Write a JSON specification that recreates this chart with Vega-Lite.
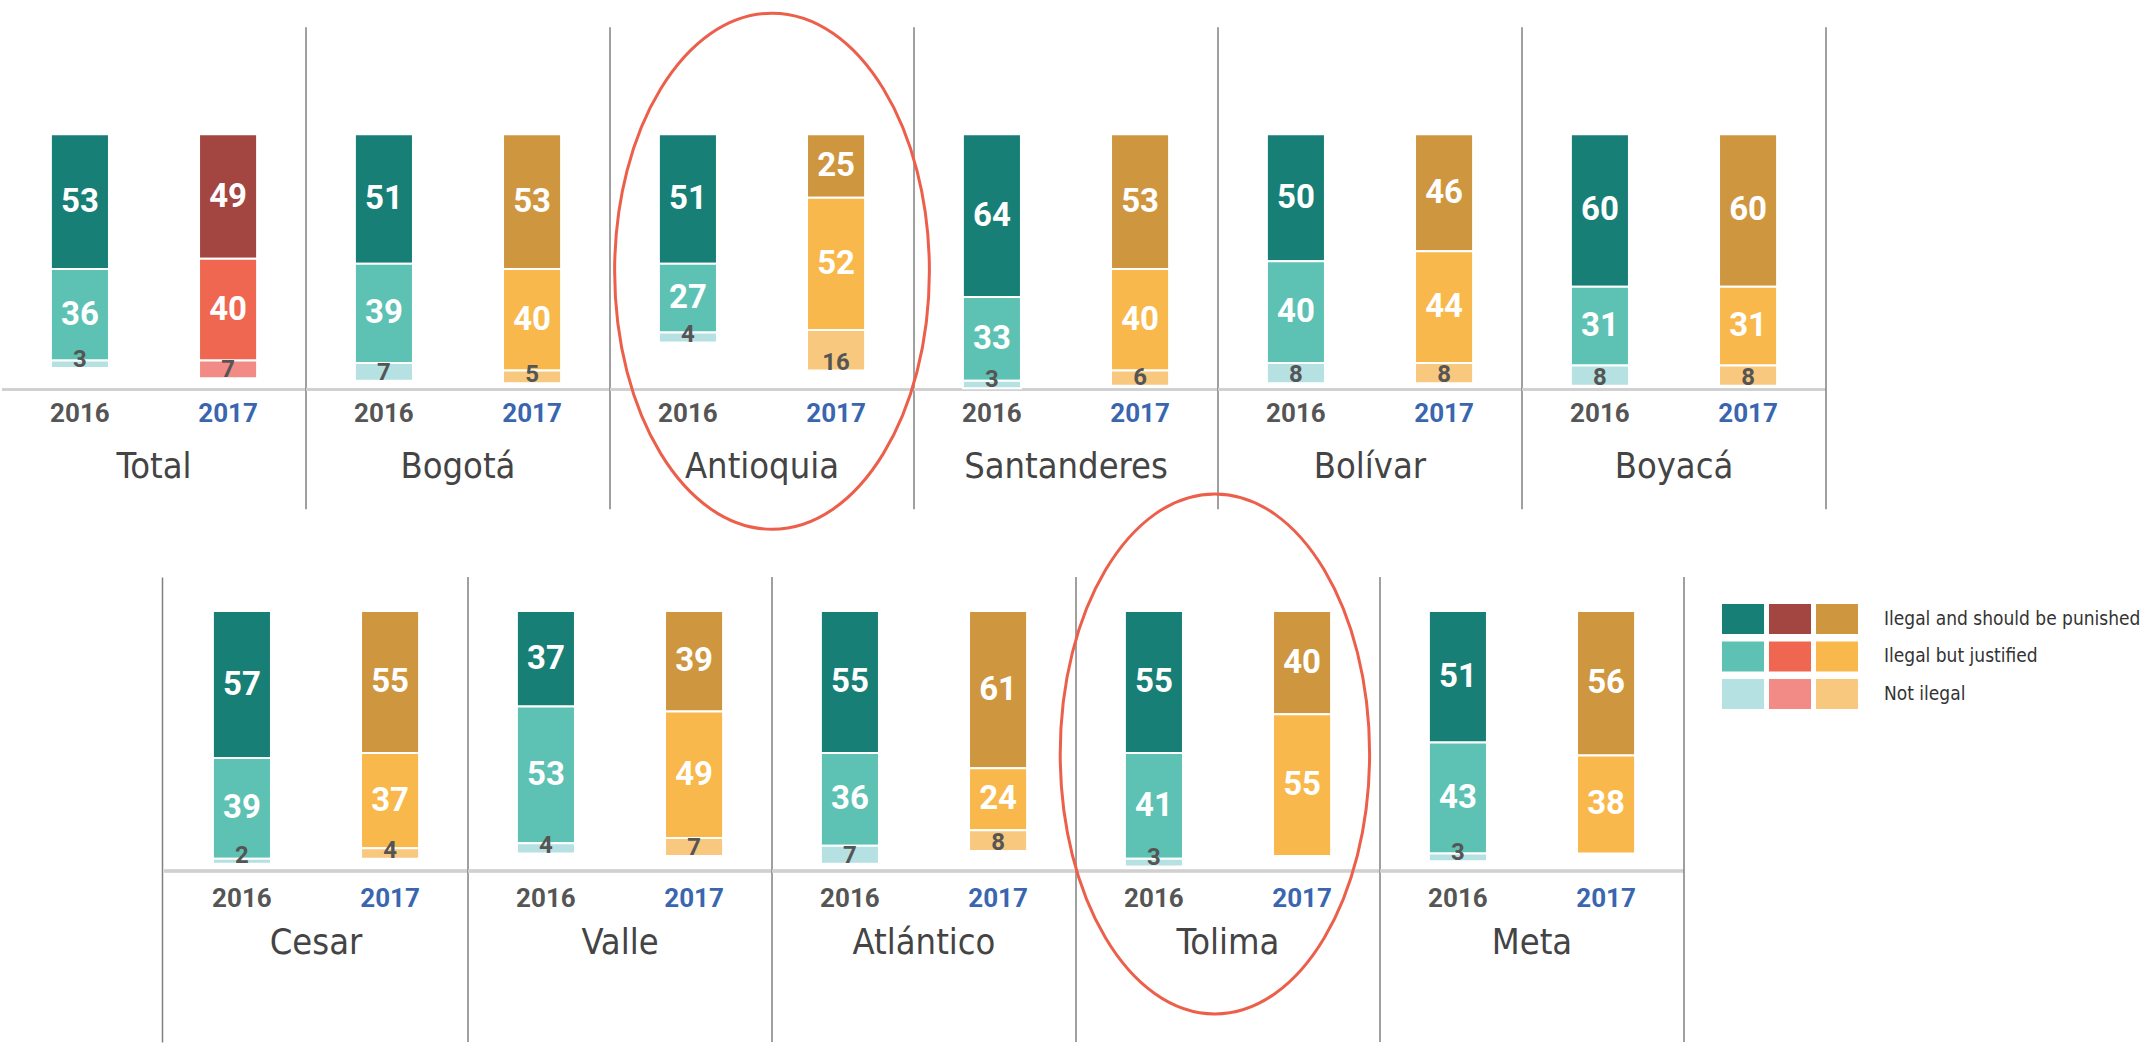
{
  "$schema": "https://vega.github.io/schema/vega-lite/v6.json",
  "padding": {"top": 6.3, "left": 0, "right": 0, "bottom": 0},
  "background": "white",
  "config": {
    "view": {"stroke": null},
    "font": "Roboto",
    "axisY": {"labels": false, "ticks": false, "grid": false, "domainColor": "#808080", "domainWidth": 1.5}
  },
  "datasets": {
    "survey": [
      {"region": "Total", "year": "2016", "cat": "Ilegal and should be punished", "v": 53},
      {"region": "Total", "year": "2016", "cat": "Ilegal but justified", "v": 36},
      {"region": "Total", "year": "2016", "cat": "Not ilegal", "v": 3},
      {"region": "Total", "year": "2017", "cat": "Ilegal and should be punished", "v": 49},
      {"region": "Total", "year": "2017", "cat": "Ilegal but justified", "v": 40},
      {"region": "Total", "year": "2017", "cat": "Not ilegal", "v": 7},
      {"region": "Bogotá", "year": "2016", "cat": "Ilegal and should be punished", "v": 51},
      {"region": "Bogotá", "year": "2016", "cat": "Ilegal but justified", "v": 39},
      {"region": "Bogotá", "year": "2016", "cat": "Not ilegal", "v": 7},
      {"region": "Bogotá", "year": "2017", "cat": "Ilegal and should be punished", "v": 53},
      {"region": "Bogotá", "year": "2017", "cat": "Ilegal but justified", "v": 40},
      {"region": "Bogotá", "year": "2017", "cat": "Not ilegal", "v": 5},
      {"region": "Antioquia", "year": "2016", "cat": "Ilegal and should be punished", "v": 51},
      {"region": "Antioquia", "year": "2016", "cat": "Ilegal but justified", "v": 27},
      {"region": "Antioquia", "year": "2016", "cat": "Not ilegal", "v": 4},
      {"region": "Antioquia", "year": "2017", "cat": "Ilegal and should be punished", "v": 25},
      {"region": "Antioquia", "year": "2017", "cat": "Ilegal but justified", "v": 52},
      {"region": "Antioquia", "year": "2017", "cat": "Not ilegal", "v": 16},
      {"region": "Santanderes", "year": "2016", "cat": "Ilegal and should be punished", "v": 64},
      {"region": "Santanderes", "year": "2016", "cat": "Ilegal but justified", "v": 33},
      {"region": "Santanderes", "year": "2016", "cat": "Not ilegal", "v": 3},
      {"region": "Santanderes", "year": "2017", "cat": "Ilegal and should be punished", "v": 53},
      {"region": "Santanderes", "year": "2017", "cat": "Ilegal but justified", "v": 40},
      {"region": "Santanderes", "year": "2017", "cat": "Not ilegal", "v": 6},
      {"region": "Bolívar", "year": "2016", "cat": "Ilegal and should be punished", "v": 50},
      {"region": "Bolívar", "year": "2016", "cat": "Ilegal but justified", "v": 40},
      {"region": "Bolívar", "year": "2016", "cat": "Not ilegal", "v": 8},
      {"region": "Bolívar", "year": "2017", "cat": "Ilegal and should be punished", "v": 46},
      {"region": "Bolívar", "year": "2017", "cat": "Ilegal but justified", "v": 44},
      {"region": "Bolívar", "year": "2017", "cat": "Not ilegal", "v": 8},
      {"region": "Boyacá", "year": "2016", "cat": "Ilegal and should be punished", "v": 60},
      {"region": "Boyacá", "year": "2016", "cat": "Ilegal but justified", "v": 31},
      {"region": "Boyacá", "year": "2016", "cat": "Not ilegal", "v": 8},
      {"region": "Boyacá", "year": "2017", "cat": "Ilegal and should be punished", "v": 60},
      {"region": "Boyacá", "year": "2017", "cat": "Ilegal but justified", "v": 31},
      {"region": "Boyacá", "year": "2017", "cat": "Not ilegal", "v": 8},
      {"region": "Cesar", "year": "2016", "cat": "Ilegal and should be punished", "v": 57},
      {"region": "Cesar", "year": "2016", "cat": "Ilegal but justified", "v": 39},
      {"region": "Cesar", "year": "2016", "cat": "Not ilegal", "v": 2},
      {"region": "Cesar", "year": "2017", "cat": "Ilegal and should be punished", "v": 55},
      {"region": "Cesar", "year": "2017", "cat": "Ilegal but justified", "v": 37},
      {"region": "Cesar", "year": "2017", "cat": "Not ilegal", "v": 4},
      {"region": "Valle", "year": "2016", "cat": "Ilegal and should be punished", "v": 37},
      {"region": "Valle", "year": "2016", "cat": "Ilegal but justified", "v": 53},
      {"region": "Valle", "year": "2016", "cat": "Not ilegal", "v": 4},
      {"region": "Valle", "year": "2017", "cat": "Ilegal and should be punished", "v": 39},
      {"region": "Valle", "year": "2017", "cat": "Ilegal but justified", "v": 49},
      {"region": "Valle", "year": "2017", "cat": "Not ilegal", "v": 7},
      {"region": "Atlántico", "year": "2016", "cat": "Ilegal and should be punished", "v": 55},
      {"region": "Atlántico", "year": "2016", "cat": "Ilegal but justified", "v": 36},
      {"region": "Atlántico", "year": "2016", "cat": "Not ilegal", "v": 7},
      {"region": "Atlántico", "year": "2017", "cat": "Ilegal and should be punished", "v": 61},
      {"region": "Atlántico", "year": "2017", "cat": "Ilegal but justified", "v": 24},
      {"region": "Atlántico", "year": "2017", "cat": "Not ilegal", "v": 8},
      {"region": "Tolima", "year": "2016", "cat": "Ilegal and should be punished", "v": 55},
      {"region": "Tolima", "year": "2016", "cat": "Ilegal but justified", "v": 41},
      {"region": "Tolima", "year": "2016", "cat": "Not ilegal", "v": 3},
      {"region": "Tolima", "year": "2017", "cat": "Ilegal and should be punished", "v": 40},
      {"region": "Tolima", "year": "2017", "cat": "Ilegal but justified", "v": 55},
      {"region": "Meta", "year": "2016", "cat": "Ilegal and should be punished", "v": 51},
      {"region": "Meta", "year": "2016", "cat": "Ilegal but justified", "v": 43},
      {"region": "Meta", "year": "2016", "cat": "Not ilegal", "v": 3},
      {"region": "Meta", "year": "2017", "cat": "Ilegal and should be punished", "v": 56},
      {"region": "Meta", "year": "2017", "cat": "Ilegal but justified", "v": 38}
    ],
    "legend": [
      {"pal": "teal", "cat": "Ilegal and should be punished"},
      {"pal": "teal", "cat": "Ilegal but justified"},
      {"pal": "teal", "cat": "Not ilegal"},
      {"pal": "red", "cat": "Ilegal and should be punished"},
      {"pal": "red", "cat": "Ilegal but justified"},
      {"pal": "red", "cat": "Not ilegal"},
      {"pal": "orange", "cat": "Ilegal and should be punished"},
      {"pal": "orange", "cat": "Ilegal but justified"},
      {"pal": "orange", "cat": "Not ilegal"}
    ],
    "spacer": [{"v": 0}]
  },
  "spacing": -47.4,
  "vconcat": [
    {
      "data": {"name": "survey"},
      "transform": [
        {"filter": {"field": "region", "oneOf": ["Total", "Bogotá", "Antioquia", "Santanderes", "Bolívar", "Boyacá"]}},
        {"stack": "v", "groupby": ["region", "year"], "sort": [{"field": "cat", "order": "ascending"}], "as": ["v0", "v1"]},
        {"calculate": "(datum.v0 + datum.v1) / 2", "as": "vm"},
        {"calculate": "(datum.year == '2016' ? 'teal' : datum.region == 'Total' ? 'red' : 'orange') + '|' + datum.cat", "as": "ck"}
      ],
      "facet": {"column": {"field": "region", "type": "nominal", "sort": ["Total", "Bogotá", "Antioquia", "Santanderes", "Bolívar", "Boyacá"], "header": null}},
      "spacing": 0,
      "bounds": "flush",
      "spec": {
        "width": 304,
        "height": 482,
        "layer": [
          {
            "mark": {"type": "rule", "color": "#d0d0d0", "strokeWidth": 2.5},
            "encoding": {"y": {"datum": 100.5, "type": "quantitative", "axis": null}}
          },
          {
            "mark": {"type": "bar", "stroke": "white", "strokeWidth": 2},
            "encoding": {
              "x": {"field": "year", "type": "nominal", "scale": {"paddingInner": 0.608, "paddingOuter": 0.33}, "axis": null},
              "y": {"field": "v0", "type": "quantitative", "scale": {"domain": [-42.1, 147.6], "reverse": true, "nice": false, "zero": false}, "axis": null},
              "y2": {"field": "v1"},
              "color": {
                "field": "ck", "type": "nominal", "legend": null,
                "scale": {
                  "domain": ["teal|Ilegal and should be punished", "teal|Ilegal but justified", "teal|Not ilegal", "red|Ilegal and should be punished", "red|Ilegal but justified", "red|Not ilegal", "orange|Ilegal and should be punished", "orange|Ilegal but justified", "orange|Not ilegal"],
                  "range": ["#187F77", "#5DC2B4", "#B5E1E3", "#A34641", "#EF6651", "#F28B86", "#CF9640", "#F9B84B", "#F8C87E"]
                }
              }
            }
          },
          {
            "transform": [{"filter": "datum.cat == 'Ilegal and should be punished' && datum.year == '2016'"}],
            "mark": {"type": "rule", "color": "#808080", "strokeWidth": 1.5},
            "encoding": {"x": {"datum": "2017", "type": "nominal", "bandPosition": 1.842, "axis": null}}
          },
          {
            "transform": [{"filter": "datum.cat != 'Not ilegal'"}],
            "mark": {"type": "text", "fontSize": 33, "fontWeight": "bold", "color": "white", "baseline": "middle"},
            "encoding": {
              "x": {"field": "year", "type": "nominal", "axis": null},
              "y": {"field": "vm", "type": "quantitative", "axis": null},
              "text": {"field": "v"}
            }
          },
          {
            "transform": [{"filter": "datum.cat == 'Not ilegal'"}],
            "mark": {"type": "text", "fontSize": 24, "fontWeight": "bold", "color": "#555555", "baseline": "alphabetic", "dy": -1},
            "encoding": {
              "x": {"field": "year", "type": "nominal", "axis": null},
              "y": {"field": "v1", "type": "quantitative", "axis": null},
              "text": {"field": "v"}
            }
          },
          {
            "transform": [{"filter": "datum.cat == 'Ilegal and should be punished'"}],
            "mark": {"type": "text", "fontSize": 26, "fontWeight": "bold", "baseline": "middle"},
            "encoding": {
              "x": {"field": "year", "type": "nominal", "axis": null},
              "y": {"datum": 110, "type": "quantitative", "axis": null},
              "text": {"field": "year"},
              "color": {"condition": {"test": "datum.year == '2017'", "value": "#3A66B0"}, "value": "#555555"}
            }
          },
          {
            "transform": [{"filter": "datum.cat == 'Ilegal and should be punished' && datum.year == '2016'"}],
            "mark": {"type": "text", "font": "DejaVu Sans Condensed", "fontSize": 36, "color": "#444444", "baseline": "middle"},
            "encoding": {
              "y": {"datum": 131, "type": "quantitative", "axis": null},
              "text": {"field": "region"}
            }
          },
          {
            "transform": [{"filter": "datum.cat == 'Ilegal and should be punished' && datum.year == '2016' && datum.region == 'Antioquia'"}],
            "mark": {"type": "point", "shape": "M 0 -1 C 0.337 -1 0.61 -0.552 0.61 0 C 0.61 0.552 0.337 1 0 1 C -0.337 1 -0.61 0.552 -0.61 0 C -0.61 -0.552 -0.337 -1 0 -1 Z", "size": 266256, "filled": false, "stroke": "#EC5F4B", "strokeWidth": 3, "opacity": 1},
            "encoding": {
              "x": {"datum": "2016", "type": "nominal", "bandPosition": 1.948, "axis": null},
              "y": {"datum": 53.9, "type": "quantitative", "axis": null}
            }
          }
        ]
      }
    },
    {
      "spacing": 0,
      "hconcat": [
        {
          "data": {"name": "spacer"},
          "width": 160,
          "height": 465,
          "mark": {"type": "point", "opacity": 0},
          "encoding": {"y": {"field": "v", "type": "quantitative", "title": null, "axis": {"orient": "right"}}}
        },
        {
          "data": {"name": "survey"},
          "transform": [
            {"filter": {"field": "region", "oneOf": ["Cesar", "Valle", "Atlántico", "Tolima", "Meta"]}},
            {"stack": "v", "groupby": ["region", "year"], "sort": [{"field": "cat", "order": "ascending"}], "as": ["v0", "v1"]},
            {"calculate": "(datum.v0 + datum.v1) / 2", "as": "vm"},
            {"calculate": "(datum.year == '2016' ? 'teal' : datum.region == 'Total' ? 'red' : 'orange') + '|' + datum.cat", "as": "ck"}
          ],
          "facet": {"column": {"field": "region", "type": "nominal", "sort": ["Cesar", "Valle", "Atlántico", "Tolima", "Meta"], "header": null}},
          "spacing": 0,
          "bounds": "flush",
          "spec": {
            "width": 304,
            "height": 465,
            "layer": [
              {
                "mark": {"type": "rule", "color": "#d0d0d0", "strokeWidth": 2.5},
                "encoding": {"y": {"datum": 100.8, "type": "quantitative", "axis": null}}
              },
              {
                "mark": {"type": "bar", "stroke": "white", "strokeWidth": 2},
                "encoding": {
                  "x": {"field": "year", "type": "nominal", "scale": {"paddingInner": 0.608, "paddingOuter": 0.33}, "axis": null},
                  "y": {"field": "v0", "type": "quantitative", "scale": {"domain": [-13.2, 167], "reverse": true, "nice": false, "zero": false}, "axis": null},
                  "y2": {"field": "v1"},
                  "color": {
                    "field": "ck", "type": "nominal", "legend": null,
                    "scale": {
                      "domain": ["teal|Ilegal and should be punished", "teal|Ilegal but justified", "teal|Not ilegal", "red|Ilegal and should be punished", "red|Ilegal but justified", "red|Not ilegal", "orange|Ilegal and should be punished", "orange|Ilegal but justified", "orange|Not ilegal"],
                      "range": ["#187F77", "#5DC2B4", "#B5E1E3", "#A34641", "#EF6651", "#F28B86", "#CF9640", "#F9B84B", "#F8C87E"]
                    }
                  }
                }
              },
              {
                "transform": [{"filter": "datum.cat == 'Ilegal and should be punished' && datum.year == '2016'"}],
                "mark": {"type": "rule", "color": "#808080", "strokeWidth": 1.5},
                "encoding": {"x": {"datum": "2017", "type": "nominal", "bandPosition": 1.842, "axis": null}}
              },
              {
                "transform": [{"filter": "datum.cat != 'Not ilegal'"}],
                "mark": {"type": "text", "fontSize": 33, "fontWeight": "bold", "color": "white", "baseline": "middle"},
                "encoding": {
                  "x": {"field": "year", "type": "nominal", "axis": null},
                  "y": {"field": "vm", "type": "quantitative", "axis": null},
                  "text": {"field": "v"}
                }
              },
              {
                "transform": [{"filter": "datum.cat == 'Not ilegal'"}],
                "mark": {"type": "text", "fontSize": 24, "fontWeight": "bold", "color": "#555555", "baseline": "alphabetic", "dy": -1},
                "encoding": {
                  "x": {"field": "year", "type": "nominal", "axis": null},
                  "y": {"field": "v1", "type": "quantitative", "axis": null},
                  "text": {"field": "v"}
                }
              },
              {
                "transform": [{"filter": "datum.cat == 'Ilegal and should be punished'"}],
                "mark": {"type": "text", "fontSize": 26, "fontWeight": "bold", "baseline": "middle"},
                "encoding": {
                  "x": {"field": "year", "type": "nominal", "axis": null},
                  "y": {"datum": 111.6, "type": "quantitative", "axis": null},
                  "text": {"field": "year"},
                  "color": {"condition": {"test": "datum.year == '2017'", "value": "#3A66B0"}, "value": "#555555"}
                }
              },
              {
                "transform": [{"filter": "datum.cat == 'Ilegal and should be punished' && datum.year == '2016'"}],
                "mark": {"type": "text", "font": "DejaVu Sans Condensed", "fontSize": 36, "color": "#444444", "baseline": "middle"},
                "encoding": {
                  "y": {"datum": 128.7, "type": "quantitative", "axis": null},
                  "text": {"field": "region"}
                }
              },
              {
                "transform": [{"filter": "datum.cat == 'Ilegal and should be punished' && datum.year == '2016' && datum.region == 'Tolima'"}],
                "mark": {"type": "point", "shape": "M 0 -1 C 0.329 -1 0.595 -0.552 0.595 0 C 0.595 0.552 0.329 1 0 1 C -0.329 1 -0.595 0.552 -0.595 0 C -0.595 -0.552 -0.329 -1 0 -1 Z", "size": 270400, "filled": false, "stroke": "#EC5F4B", "strokeWidth": 3, "opacity": 1},
                "encoding": {
                  "x": {"datum": "2016", "type": "nominal", "bandPosition": 1.55, "axis": null},
                  "y": {"datum": 55.4, "type": "quantitative", "axis": null}
                }
              }
            ]
          }
        },
        {
          "data": {"name": "legend"},
          "width": 208,
          "height": 159,
          "transform": [{"calculate": "datum.pal + '|' + datum.cat", "as": "ck"}],
          "layer": [
            {
              "mark": {"type": "rect"},
              "encoding": {
                "x": {"field": "pal", "type": "nominal", "sort": ["teal", "red", "orange"], "scale": {"paddingInner": 0.106, "paddingOuter": 0.766}, "axis": null},
                "y": {"field": "cat", "type": "nominal", "scale": {"paddingInner": 0.2, "paddingOuter": 0.72}, "axis": null},
                "color": {
                  "field": "ck", "type": "nominal", "legend": null,
                  "scale": {
                    "domain": ["teal|Ilegal and should be punished", "teal|Ilegal but justified", "teal|Not ilegal", "red|Ilegal and should be punished", "red|Ilegal but justified", "red|Not ilegal", "orange|Ilegal and should be punished", "orange|Ilegal but justified", "orange|Not ilegal"],
                    "range": ["#187F77", "#5DC2B4", "#B5E1E3", "#A34641", "#EF6651", "#F28B86", "#CF9640", "#F9B84B", "#F8C87E"]
                  }
                }
              }
            },
            {
              "transform": [{"filter": "datum.pal == 'orange'"}],
              "mark": {"type": "text", "align": "left", "baseline": "middle", "dx": 47, "font": "DejaVu Sans Condensed", "fontSize": 19, "color": "#333333"},
              "encoding": {
                "x": {"field": "pal", "type": "nominal", "sort": ["teal", "red", "orange"], "axis": null},
                "y": {"field": "cat", "type": "nominal", "axis": null},
                "text": {"field": "cat"}
              }
            }
          ]
        }
      ]
    }
  ]
}
